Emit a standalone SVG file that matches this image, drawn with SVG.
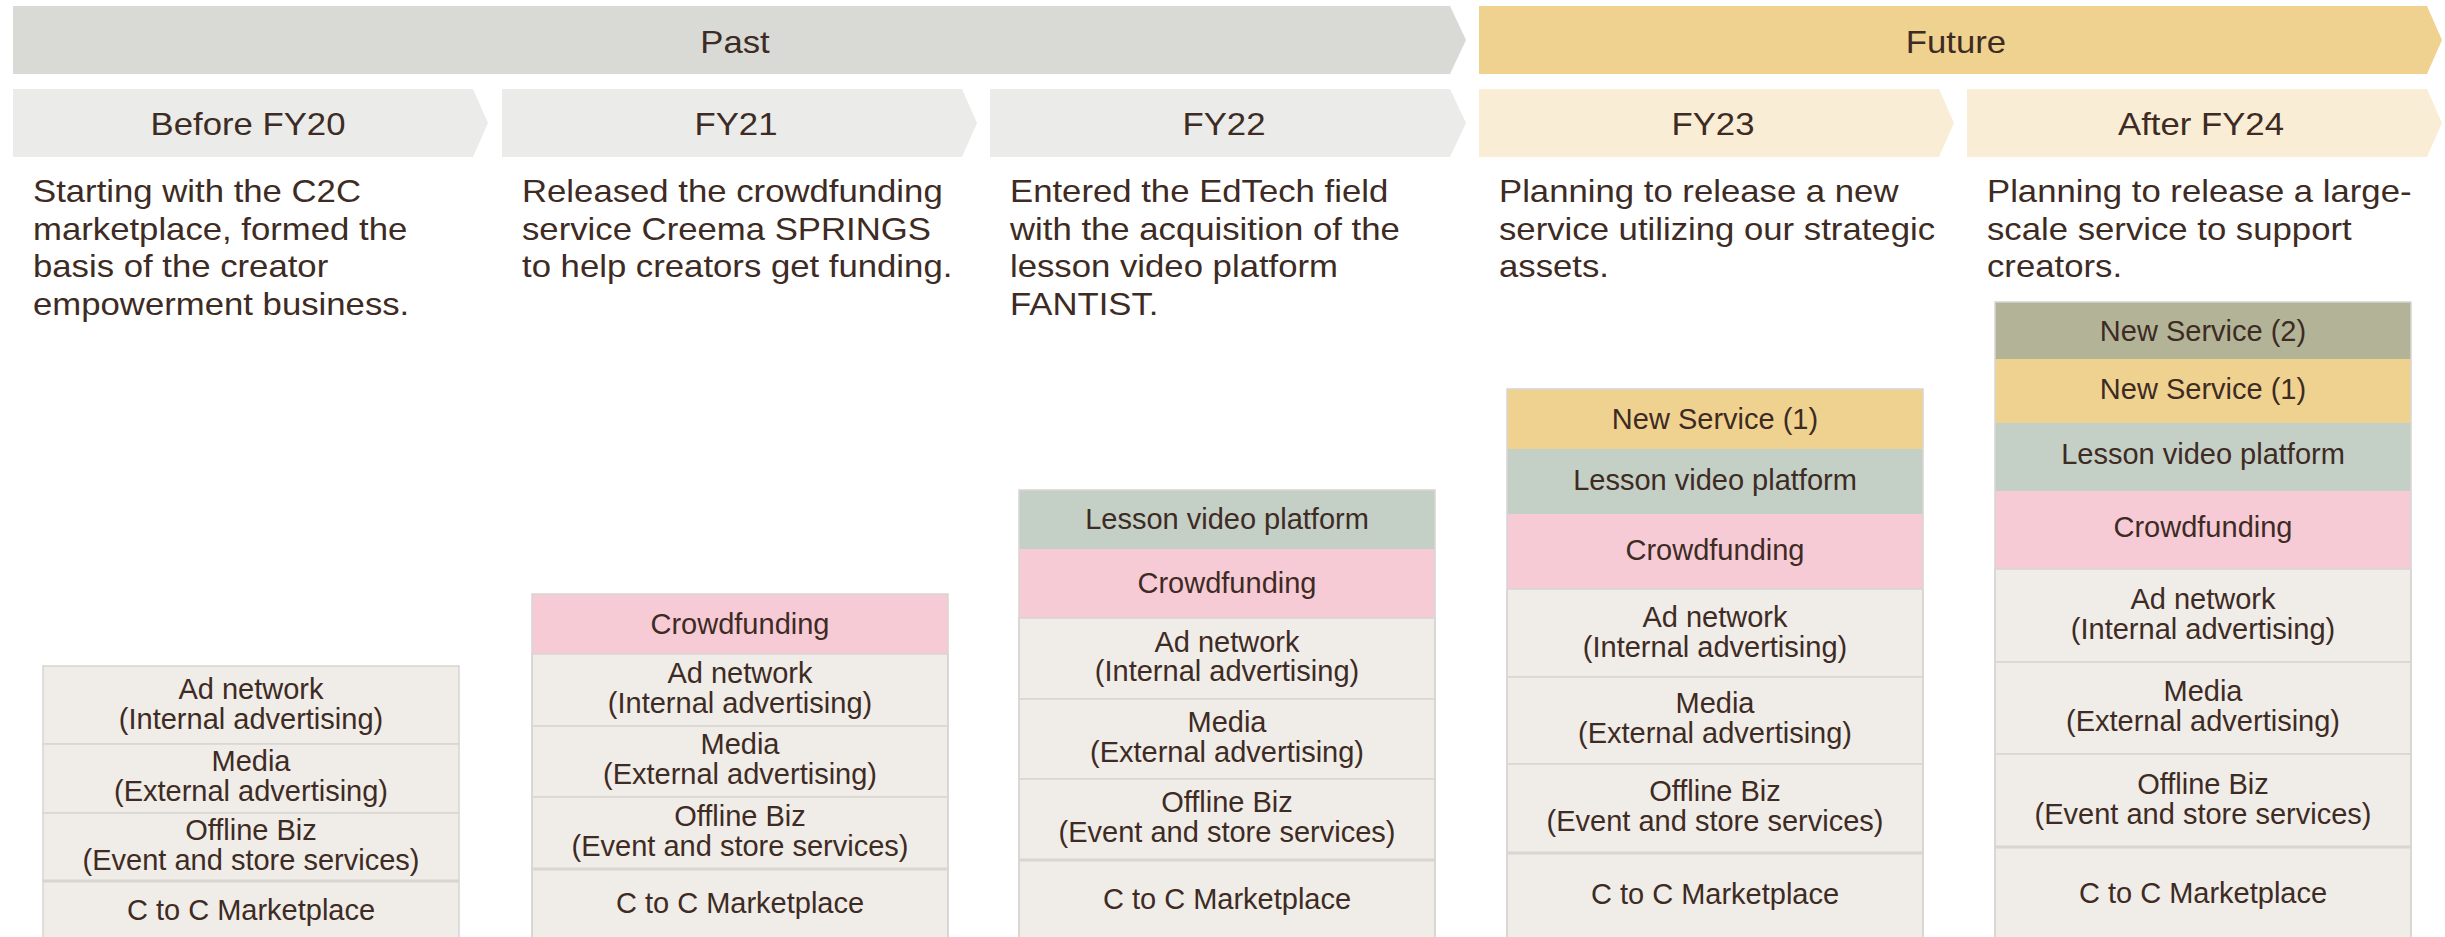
<svg xmlns="http://www.w3.org/2000/svg" width="2445" height="937" viewBox="0 0 2445 937">
<style>
text{font-family:"Liberation Sans",Arial,Helvetica,sans-serif;fill:#3d2b24}
.big{font-size:31px}
.mid{text-anchor:middle}
.lbl{font-size:29px;text-anchor:middle}
.base{fill:#f0ece7;stroke:#d8d5d2;stroke-width:1.5}
.cf{fill:#f7cbd6}
.lv{fill:#c4cfc6}
.ns1{fill:#f0d290}
.ns2{fill:#b3b497}
.outline{fill:none;stroke:#d8d5d2;stroke-width:1.5}
.sep{stroke:#d8d5d2;stroke-width:3}
.pastB{fill:#d9dad5}
.futB{fill:#f0d290}
.pastP{fill:#ebebe9}
.futP{fill:#faedd6}
</style>
<rect width="2445" height="937" fill="#ffffff"/>

<g id="banner-past">
<polygon class="pastB" points="13,6 1450,6 1466,40 1450,74 13,74"/>
<text class="big mid" transform="translate(735,0) scale(1.12,1)" x="0" y="53">Past</text>
</g>
<g id="banner-future">
<polygon class="futB" points="1479,6 2427,6 2442,40 2427,74 1479,74"/>
<text class="big mid" transform="translate(1956,0) scale(1.12,1)" x="0" y="53">Future</text>
</g>

<g id="period-fy20">
<polygon class="pastP" points="13,89 473,89 488,123 473,157 13,157"/>
<text class="big mid" transform="translate(248,0) scale(1.12,1)" x="0" y="135">Before FY20</text>
<text class="big" transform="translate(33,0) scale(1.12,1)"><tspan x="0" y="202">Starting with the C2C</tspan><tspan x="0" y="240">marketplace, formed the</tspan><tspan x="0" y="277">basis of the creator</tspan><tspan x="0" y="315">empowerment business.</tspan></text>
</g>
<g id="period-fy21">
<polygon class="pastP" points="502,89 962,89 977,123 962,157 502,157"/>
<text class="big mid" transform="translate(736,0) scale(1.12,1)" x="0" y="135">FY21</text>
<text class="big" transform="translate(522,0) scale(1.12,1)"><tspan x="0" y="202">Released the crowdfunding</tspan><tspan x="0" y="240">service Creema SPRINGS</tspan><tspan x="0" y="277">to help creators get funding.</tspan></text>
</g>
<g id="period-fy22">
<polygon class="pastP" points="990,89 1450,89 1466,123 1450,157 990,157"/>
<text class="big mid" transform="translate(1224,0) scale(1.12,1)" x="0" y="135">FY22</text>
<text class="big" transform="translate(1010,0) scale(1.12,1)"><tspan x="0" y="202">Entered the EdTech field</tspan><tspan x="0" y="240">with the acquisition of the</tspan><tspan x="0" y="277">lesson video platform</tspan><tspan x="0" y="315">FANTIST.</tspan></text>
</g>
<g id="period-fy23">
<polygon class="futP" points="1479,89 1939,89 1954,123 1939,157 1479,157"/>
<text class="big mid" transform="translate(1713,0) scale(1.12,1)" x="0" y="135">FY23</text>
<text class="big" transform="translate(1499,0) scale(1.12,1)"><tspan x="0" y="202">Planning to release a new</tspan><tspan x="0" y="240">service utilizing our strategic</tspan><tspan x="0" y="277">assets.</tspan></text>
</g>
<g id="period-fy24">
<polygon class="futP" points="1967,89 2427,89 2442,123 2427,157 1967,157"/>
<text class="big mid" transform="translate(2201,0) scale(1.12,1)" x="0" y="135">After FY24</text>
<text class="big" transform="translate(1987,0) scale(1.12,1)"><tspan x="0" y="202">Planning to release a large-</tspan><tspan x="0" y="240">scale service to support</tspan><tspan x="0" y="277">creators.</tspan></text>
</g>

<g id="stack-fy20">
<rect class="base" x="43" y="666" width="416" height="78"/>
<rect class="base" x="43" y="744" width="416" height="69"/>
<rect class="base" x="43" y="813" width="416" height="68"/>
<rect class="base" x="43" y="881" width="416" height="60"/>
<line class="sep" x1="43" y1="881" x2="459" y2="881"/>
<text class="lbl" x="251" y="699">Ad network</text>
<text class="lbl" x="251" y="729">(Internal advertising)</text>
<text class="lbl" x="251" y="771">Media</text>
<text class="lbl" x="251" y="801">(External advertising)</text>
<text class="lbl" x="251" y="840">Offline Biz</text>
<text class="lbl" x="251" y="870">(Event and store services)</text>
<text class="lbl" x="251" y="920">C to C Marketplace</text>
</g>

<g id="stack-fy21">
<rect class="cf" x="532" y="594" width="416" height="60"/>
<rect class="base" x="532" y="654" width="416" height="72"/>
<rect class="base" x="532" y="726" width="416" height="71"/>
<rect class="base" x="532" y="797" width="416" height="72"/>
<rect class="base" x="532" y="869" width="416" height="72"/>
<line class="sep" x1="532" y1="869" x2="948" y2="869"/>
<rect class="outline" x="532" y="594" width="416" height="347"/>
<text class="lbl" x="740" y="634">Crowdfunding</text>
<text class="lbl" x="740" y="683">Ad network</text>
<text class="lbl" x="740" y="713">(Internal advertising)</text>
<text class="lbl" x="740" y="754">Media</text>
<text class="lbl" x="740" y="784">(External advertising)</text>
<text class="lbl" x="740" y="826">Offline Biz</text>
<text class="lbl" x="740" y="856">(Event and store services)</text>
<text class="lbl" x="740" y="913">C to C Marketplace</text>
</g>

<g id="stack-fy22">
<rect class="lv" x="1019" y="490" width="416" height="59"/>
<rect class="cf" x="1019" y="549" width="416" height="69"/>
<rect class="base" x="1019" y="618" width="416" height="81"/>
<rect class="base" x="1019" y="699" width="416" height="80"/>
<rect class="base" x="1019" y="779" width="416" height="81"/>
<rect class="base" x="1019" y="860" width="416" height="81"/>
<line class="sep" x1="1019" y1="860" x2="1435" y2="860"/>
<rect class="outline" x="1019" y="490" width="416" height="451"/>
<text class="lbl" x="1227" y="529">Lesson video platform</text>
<text class="lbl" x="1227" y="593">Crowdfunding</text>
<text class="lbl" x="1227" y="652">Ad network</text>
<text class="lbl" x="1227" y="681">(Internal advertising)</text>
<text class="lbl" x="1227" y="732">Media</text>
<text class="lbl" x="1227" y="762">(External advertising)</text>
<text class="lbl" x="1227" y="812">Offline Biz</text>
<text class="lbl" x="1227" y="842">(Event and store services)</text>
<text class="lbl" x="1227" y="909">C to C Marketplace</text>
</g>

<g id="stack-fy23">
<rect class="ns1" x="1507" y="389" width="416" height="60"/>
<rect class="lv" x="1507" y="449" width="416" height="65"/>
<rect class="cf" x="1507" y="514" width="416" height="75"/>
<rect class="base" x="1507" y="589" width="416" height="88"/>
<rect class="base" x="1507" y="677" width="416" height="87"/>
<rect class="base" x="1507" y="764" width="416" height="89"/>
<rect class="base" x="1507" y="853" width="416" height="88"/>
<line class="sep" x1="1507" y1="853" x2="1923" y2="853"/>
<rect class="outline" x="1507" y="389" width="416" height="552"/>
<text class="lbl" x="1715" y="429">New Service (1)</text>
<text class="lbl" x="1715" y="490">Lesson video platform</text>
<text class="lbl" x="1715" y="560">Crowdfunding</text>
<text class="lbl" x="1715" y="627">Ad network</text>
<text class="lbl" x="1715" y="657">(Internal advertising)</text>
<text class="lbl" x="1715" y="713">Media</text>
<text class="lbl" x="1715" y="743">(External advertising)</text>
<text class="lbl" x="1715" y="801">Offline Biz</text>
<text class="lbl" x="1715" y="831">(Event and store services)</text>
<text class="lbl" x="1715" y="904">C to C Marketplace</text>
</g>

<g id="stack-fy24">
<rect class="ns2" x="1995" y="302" width="416" height="57"/>
<rect class="ns1" x="1995" y="359" width="416" height="64"/>
<rect class="lv" x="1995" y="423" width="416" height="68"/>
<rect class="cf" x="1995" y="491" width="416" height="78"/>
<rect class="base" x="1995" y="569" width="416" height="93"/>
<rect class="base" x="1995" y="662" width="416" height="92"/>
<rect class="base" x="1995" y="754" width="416" height="93"/>
<rect class="base" x="1995" y="847" width="416" height="94"/>
<line class="sep" x1="1995" y1="847" x2="2411" y2="847"/>
<rect class="outline" x="1995" y="302" width="416" height="639"/>
<text class="lbl" x="2203" y="341">New Service (2)</text>
<text class="lbl" x="2203" y="399">New Service (1)</text>
<text class="lbl" x="2203" y="464">Lesson video platform</text>
<text class="lbl" x="2203" y="537">Crowdfunding</text>
<text class="lbl" x="2203" y="609">Ad network</text>
<text class="lbl" x="2203" y="639">(Internal advertising)</text>
<text class="lbl" x="2203" y="701">Media</text>
<text class="lbl" x="2203" y="731">(External advertising)</text>
<text class="lbl" x="2203" y="794">Offline Biz</text>
<text class="lbl" x="2203" y="824">(Event and store services)</text>
<text class="lbl" x="2203" y="903">C to C Marketplace</text>
</g>

<g id="connectors"></g>
</svg>
